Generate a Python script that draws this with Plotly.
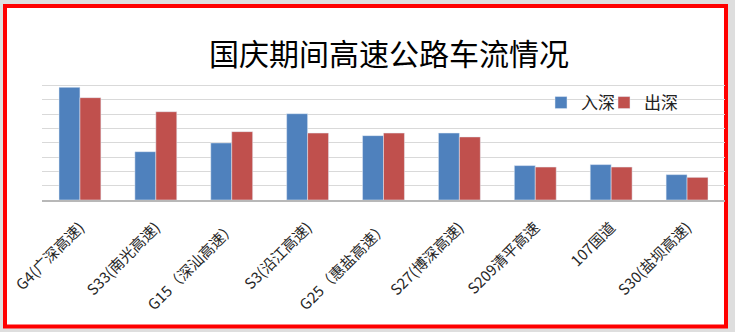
import plotly.graph_objects as go

categories = ["G4(广深高速)", "S33(南光高速)", "G15（深汕高速）", "S3(沿江高速)", "G25（惠盐高速）",
              "S27(博深高速)", "S209清平高速", "107国道", "S30(盐坝高速)"]
inbound = [7.86, 3.37, 3.98, 6.02, 4.49, 4.67, 2.40, 2.47, 1.77]
outbound = [7.14, 6.16, 4.77, 4.67, 4.67, 4.40, 2.30, 2.30, 1.58]
series_names = ["入深", "出深"]
title_text = "国庆期间高速公路车流情况"

W, H = 735, 332
L, R, T, B = 42, 10, 71, 132
pw, ph = W - L - R, H - T - B

fig = go.Figure()
fig.add_trace(go.Bar(x=categories, y=inbound, name=series_names[0], marker_color="#4f81bd",
                     legend="legend", showlegend=True))
fig.add_trace(go.Bar(x=categories, y=outbound, name=series_names[1], marker_color="#c0504d",
                     legend="legend2", showlegend=True))

def px_x(v):
    return (v - L) / pw

def px_y(v):
    return (H - B - v) / ph

fig.add_shape(type="rect", xref="paper", yref="paper",
              x0=px_x(5), x1=px_x(726), y0=px_y(326.5), y1=px_y(6),
              fillcolor="white", line=dict(color="#ff0000", width=4), layer="below")

legend_common = dict(orientation="h", xanchor="left", y=px_y(103), yanchor="middle",
                     font=dict(size=17, color="#222222"), bgcolor="rgba(0,0,0,0)",
                     itemwidth=30, visible=True)

fig.update_layout(
    width=W, height=H,
    showlegend=True,
    margin=dict(l=L, r=R, t=T, b=B, autoexpand=False),
    paper_bgcolor="#dedede",
    plot_bgcolor="rgba(0,0,0,0)",
    barmode="group", bargap=0.448, bargroupgap=0,
    font=dict(family="Noto Sans CJK SC", color="#333333"),
    title=dict(text=title_text, x=389 / W, xanchor="center", y=1 - 54.5 / H, yanchor="middle",
               yref="container", font=dict(size=30, color="#000000", family="Noto Sans CJK SC")),
    legend=dict(x=px_x(541), **legend_common),
    legend2=dict(x=px_x(604), **legend_common),
    xaxis=dict(showline=True, linecolor="#b8b8b8", linewidth=1.5, ticks="", tickangle=-45,
               tickfont=dict(size=15, color="#262626", family="Noto Sans CJK SC"),
               ticklabelstandoff=11),
    yaxis=dict(range=[0, 9], dtick=1, showticklabels=False, gridcolor="#d9d9d9", gridwidth=1,
               zeroline=False),
)

fig.write_html("out.html")
